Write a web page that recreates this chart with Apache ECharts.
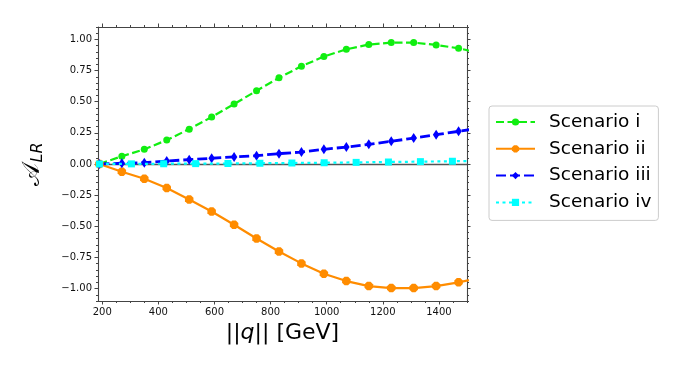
<!DOCTYPE html>
<html>
<head>
<meta charset="utf-8">
<script src="https://cdn.jsdelivr.net/npm/echarts@6/dist/echarts.min.js"></script>
<style>html,body{margin:0;padding:0;background:#fff}#c{width:681px;height:369px}</style>
</head>
<body>
<div id="c"></div>
<script>
const seriesNames = ['Scenario i', 'Scenario ii', 'Scenario iii', 'Scenario iv'];
const xMain = [190, 270, 350, 430, 510, 590, 670, 750, 830, 910, 990, 1070, 1150, 1230, 1310, 1390, 1470, 1550];
const scenarioI = [0.0, 0.062, 0.118, 0.192, 0.280, 0.377, 0.481, 0.588, 0.692, 0.785, 0.863, 0.921, 0.959, 0.975, 0.975, 0.956, 0.929, 0.889];
const scenarioII = [0.0, -0.062, -0.118, -0.192, -0.285, -0.381, -0.488, -0.598, -0.702, -0.798, -0.881, -0.940, -0.980, -0.996, -0.996, -0.980, -0.950, -0.910];
const scenarioIII = [0.0, 0.006, 0.011, 0.024, 0.035, 0.046, 0.057, 0.067, 0.083, 0.096, 0.118, 0.136, 0.158, 0.182, 0.208, 0.235, 0.262, 0.290];
const xIV = [190, 304, 419, 533, 648, 762, 876, 991, 1105, 1220, 1334, 1448, 1563];
const scenarioIV = [0.0, 0.001, 0.002, 0.003, 0.004, 0.006, 0.008, 0.010, 0.013, 0.016, 0.019, 0.022, 0.025];

const xTicks = [200, 400, 600, 800, 1000, 1200, 1400];
const xTickLabels = ['200', '400', '600', '800', '1000', '1200', '1400'];
const yTicks = [-1.0, -0.75, -0.5, -0.25, 0.0, 0.25, 0.5, 0.75, 1.0];
const yTickLabels = ['\u22121.00', '\u22120.75', '\u22120.50', '\u22120.25', '0.00', '0.25', '0.50', '0.75', '1.00'];

const X_MIN = 185, X_MAX = 1500, Y_MIN = -1.1, Y_MAX = 1.1;

// minor tick positions
const xMinor = [];
for (let v = 200; v <= X_MAX; v += 50) if (v % 200 !== 0) xMinor.push(v);
const yMinor = [];
for (let i = -22; i <= 22; i++) { if (i % 5 !== 0) yMinor.push(i * 0.05); }

const pairs = (xs, ys) => xs.map((x, i) => [x, ys[i]]);
const lab = (ticks, labels) => v => { const i = ticks.findIndex(t => Math.abs(t - v) < 1e-6); return i >= 0 ? labels[i] : ''; };

const frame = '#444';
const font = 'DejaVu Sans';

function xAx(pos, values, len, showLine, showLabel) {
  return {
    type: 'value', position: pos, min: X_MIN, max: X_MAX, gridIndex: 0,
    axisLine: { show: showLine, lineStyle: { color: frame, width: 1.1 } },
    axisTick: { show: true, customValues: values, length: len, inside: false, lineStyle: { color: frame, width: 1 } },
    axisLabel: showLabel ? { show: true, customValues: xTicks, formatter: lab(xTicks, xTickLabels), margin: 6, color: '#111', fontFamily: font, fontSize: 10 } : { show: false },
    splitLine: { show: false }
  };
}
function yAx(pos, values, len, showLine, showLabel) {
  const a = {
    type: 'value', position: pos, min: Y_MIN, max: Y_MAX, gridIndex: 0,
    axisLine: { show: showLine, onZero: false, lineStyle: { color: frame, width: 1.1 } },
    axisTick: { show: true, customValues: values, length: len, inside: false, lineStyle: { color: frame, width: 1 } },
    axisLabel: showLabel ? { show: true, customValues: yTicks, formatter: lab(yTicks, yTickLabels), margin: 6, color: '#111', fontFamily: font, fontSize: 10 } : { show: false },
    splitLine: { show: false }
  };
  return a;
}

const xAxes = [xAx('bottom', xTicks, 3.5, true, true), xAx('bottom', xMinor, 2, false, false), xAx('top', xTicks, 3.5, true, false), xAx('top', xMinor, 2, false, false)];
xAxes.forEach(a => a.axisLine.onZero = false);
xAxes[0].name = '{n|||}{q|q}{n||| [GeV]}';
xAxes[0].nameLocation = 'middle';
xAxes[0].nameGap = 18;
xAxes[0].nameTextStyle = { rich: { n: { fontFamily: font, fontSize: 22, color: '#000' }, q: { fontFamily: font, fontStyle: 'italic', fontSize: 22, color: '#000' } } };

const yAxes = [yAx('left', yTicks, 3.5, true, true), yAx('left', yMinor, 2, false, false), yAx('right', yTicks, 3.5, true, false), yAx('right', yMinor, 2, false, false)];
yAxes[0].name = '{a|\uD835\uDC9C}{s|LR}';
yAxes[0].nameLocation = 'middle';
yAxes[0].nameRotate = 90;
yAxes[0].nameGap = 52;
yAxes[0].nameTextStyle = { rich: { a: { fontFamily: font, fontSize: 24, color: '#000' }, s: { fontFamily: font, fontStyle: 'italic', fontSize: 16, color: '#000', padding: [10, 0, 0, 0] } } };

const octagon = 'path://M29.3,0 L70.7,0 L100,29.3 L100,70.7 L70.7,100 L29.3,100 L0,70.7 L0,29.3 Z';

const chart = echarts.init(document.getElementById('c'), null, { renderer: 'canvas' });
chart.setOption({
  animation: false,
  backgroundColor: '#fff',
  grid: { left: 98, top: 27, right: 214, bottom: 68, containLabel: false },
  xAxis: xAxes,
  yAxis: yAxes,
  legend: {
    orient: 'vertical', left: 489, top: 106,
    padding: [6, 7, 8, 6],
    itemWidth: 39, itemHeight: 9, itemGap: 6.8,
    backgroundColor: '#fff', borderColor: '#cccccc', borderWidth: 1, borderRadius: 3,
    textStyle: { fontFamily: font, fontSize: 18.5, lineHeight: 20, color: '#000', padding: [0, 0, 0, 9] },
    data: seriesNames
  },
  series: [
    {
      name: seriesNames[0], type: 'line', data: pairs(xMain, scenarioI),
      symbol: 'circle', symbolSize: 7, showAllSymbol: true,
      lineStyle: { color: '#11ee11', width: 2.2, type: [8, 3.5] },
      itemStyle: { color: '#11ee11' }, z: 3,
      markLine: { silent: true, symbol: 'none', label: { show: false }, lineStyle: { color: '#555', width: 1.4, type: 'solid' }, data: [{ yAxis: 0 }], z: 1 }
    },
    {
      name: seriesNames[1], type: 'line', data: pairs(xMain, scenarioII),
      symbol: octagon, symbolSize: 8.5, showAllSymbol: true,
      lineStyle: { color: '#ff8c00', width: 2.2, type: 'solid' },
      itemStyle: { color: '#ff8c00' }, z: 3
    },
    {
      name: seriesNames[2], type: 'line', data: pairs(xMain, scenarioIII),
      symbol: 'diamond', symbolSize: [6.5, 10], showAllSymbol: true,
      lineStyle: { color: '#0000ff', width: 2.8, type: [10, 4] },
      itemStyle: { color: '#0000ff' }, z: 3
    },
    {
      name: seriesNames[3], type: 'line', data: pairs(xIV, scenarioIV),
      symbol: 'rect', symbolSize: 7, showAllSymbol: true,
      lineStyle: { color: '#00ffff', width: 2.2, type: [3, 3.5] },
      itemStyle: { color: '#00ffff' }, z: 4
    }
  ]
});
</script>
</body>
</html>
